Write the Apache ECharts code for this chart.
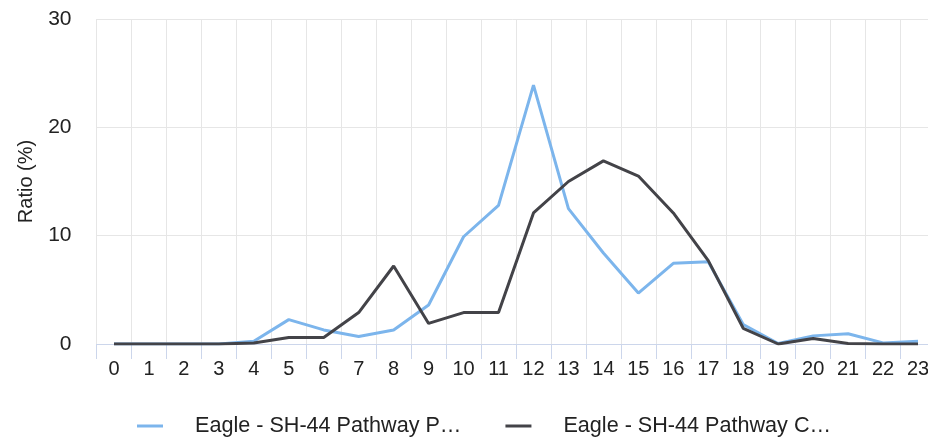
<!DOCTYPE html>
<html>
<head>
<meta charset="utf-8">
<script src="https://cdn.jsdelivr.net/npm/echarts@6/dist/echarts.min.js"></script>
<style>
html,body{margin:0;padding:0;background:#fff;overflow:hidden;}
#chart{width:928px;height:441px;}
</style>
</head>
<body>
<div id="chart"></div>
<script>
const hours = ['0','1','2','3','4','5','6','7','8','9','10','11','12','13','14','15','16','17','18','19','20','21','22','23'];
const seriesNames = ['Eagle - SH-44 Pathway P…', 'Eagle - SH-44 Pathway C…'];
const seriesP = [0, 0, 0, 0, 0.25, 2.25, 1.3, 0.7, 1.3, 3.6, 9.9, 12.8, 23.9, 12.5, 8.4, 4.7, 7.45, 7.6, 1.8, 0.05, 0.75, 0.95, 0.1, 0.25];
const seriesC = [0, 0, 0, 0, 0.1, 0.6, 0.6, 2.9, 7.2, 1.9, 2.9, 2.9, 12.1, 15.0, 16.9, 15.5, 12.1, 7.7, 1.45, 0, 0.5, 0.05, 0, 0];
const yTicks = { min: 0, max: 30, interval: 10 };

const chart = echarts.init(document.getElementById('chart'));
const font = 'Liberation Sans, Arial, sans-serif';
chart.setOption({
  animation: false,
  color: ['#7cb5ec', '#434348'],
  grid: { left: 96.5, top: 19, width: 839, bottom: 97, containLabel: false, outerBoundsMode: 'none' },
  legend: {
    left: 132,
    top: 410,
    icon: 'rect',
    itemWidth: 26,
    itemHeight: 3,
    itemGap: 44,
    textStyle: { fontFamily: font, fontSize: 21.6, color: '#222', padding: [0, 0, 0, 27] },
    data: seriesNames
  },
  xAxis: {
    type: 'category',
    data: hours,
    boundaryGap: true,
    axisLine: { lineStyle: { color: '#ccd6eb', width: 1 } },
    axisTick: { show: true, length: 15, lineStyle: { color: '#ccd6eb' }, interval: 0 },
    axisLabel: { interval: 0, margin: 15, fontFamily: font, fontSize: 20, color: '#222' },
    splitLine: { show: true, interval: 0, lineStyle: { color: '#e6e6e6', width: 1 } }
  },
  yAxis: {
    type: 'value',
    min: yTicks.min,
    max: yTicks.max,
    interval: yTicks.interval,
    name: 'Ratio (%)',
    nameLocation: 'middle',
    nameGap: 60,
    nameRotate: 90,
    nameTextStyle: { fontFamily: font, fontSize: 20, color: '#222' },
    axisLine: { show: false },
    axisTick: { show: false },
    axisLabel: { margin: 25, fontFamily: font, fontSize: 21, color: '#222' },
    splitLine: { lineStyle: { color: '#e6e6e6', width: 1 } }
  },
  series: [
    { name: seriesNames[0], type: 'line', data: seriesP, symbol: 'none', lineStyle: { width: 3 }, z: 2 },
    { name: seriesNames[1], type: 'line', data: seriesC, symbol: 'none', lineStyle: { width: 3 }, z: 3 }
  ]
});
</script>
</body>
</html>
